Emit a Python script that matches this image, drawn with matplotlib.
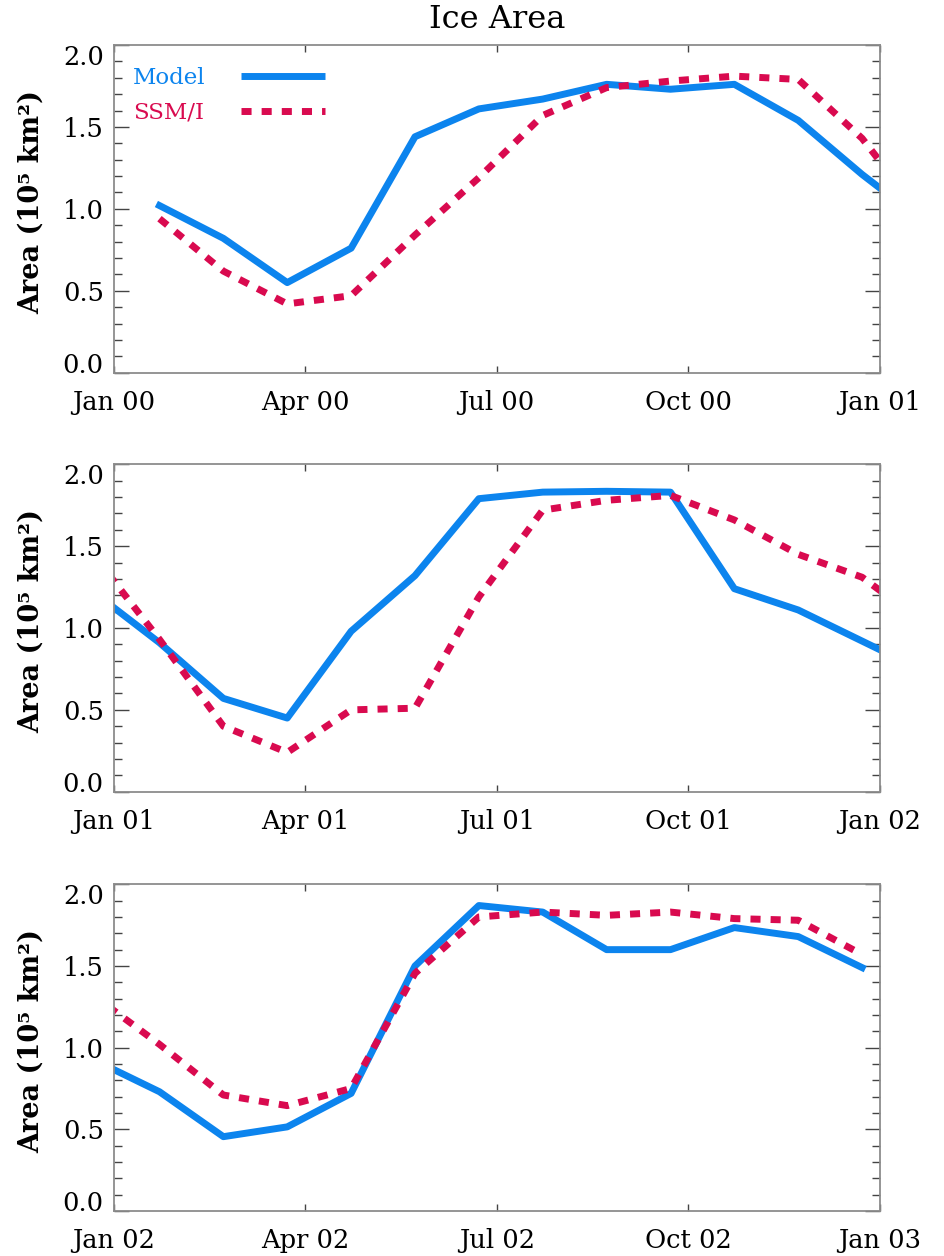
import numpy as np
import matplotlib
matplotlib.use("Agg")
import matplotlib.pyplot as plt
from matplotlib.ticker import MultipleLocator

# monthly ice area (10^5 km^2), Jan 2000 .. Dec 2002
model = [1.02, 0.82, 0.55, 0.76, 1.44, 1.61, 1.67, 1.76, 1.73, 1.76, 1.54, 1.21,
         0.91, 0.57, 0.45, 0.98, 1.32, 1.79, 1.83, 1.835, 1.83, 1.24, 1.11, 0.92,
         0.73, 0.455, 0.515, 0.72, 1.50, 1.87, 1.83, 1.60, 1.60, 1.735, 1.68, 1.49]
ssmi = [0.94, 0.62, 0.42, 0.47, 0.84, 1.19, 1.57, 1.74, 1.78, 1.81, 1.79, 1.43,
        0.93, 0.40, 0.24, 0.50, 0.51, 1.19, 1.72, 1.78, 1.81, 1.66, 1.45, 1.31,
        1.02, 0.71, 0.645, 0.75, 1.455, 1.80, 1.83, 1.81, 1.83, 1.79, 1.78, 1.57]
years = ['00', '01', '02', '03']
month_names = ['Jan', 'Apr', 'Jul', 'Oct']
sample_day = 0.72  # fraction of month where each monthly value sits

months = np.arange(len(model)) + sample_day

blue = '#0c84ee'
red = '#d90a4f'
plt.rcParams['font.family'] = ['DejaVu Serif']

fig = plt.figure(figsize=(9.44, 12.56), dpi=100)
W, H = 944.0, 1256.0
tops = [45.0, 464.3, 884.3]
bottoms = [372.7, 791.7, 1211.0]
left, right = 113.5, 880.0

for i in range(3):
    ax = fig.add_axes([left / W, 1 - bottoms[i] / H, (right - left) / W,
                       (bottoms[i] - tops[i]) / H])
    ax.plot(months, model, color=blue, lw=5, label='Model')
    ax.plot(months, ssmi, color=red, lw=5, dashes=(1.45, 1.45),
            dash_capstyle='butt', label='SSM/I')
    x0 = 12 * i
    ax.set_xlim(x0, x0 + 12)
    ax.set_ylim(0, 2.0)
    ax.set_xticks([x0, x0 + 3, x0 + 6, x0 + 9, x0 + 12])
    labs = [m + ' ' + years[i] for m in month_names] + ['Jan ' + years[i + 1]]
    ax.set_xticklabels(labs, fontsize=18.5)
    ax.set_yticks([0, 0.5, 1.0, 1.5, 2.0])
    ax.set_yticklabels(['0.0', '0.5', '1.0', '1.5', '2.0'], fontsize=18.5)
    ax.yaxis.set_minor_locator(MultipleLocator(0.1))
    ax.tick_params(axis='y', which='major', direction='in', length=11, width=1,
                   color='#444444', left=True, right=True, pad=7)
    ax.tick_params(axis='y', which='minor', direction='in', length=5.5, width=1,
                   color='#444444', left=True, right=True)
    ax.tick_params(axis='x', which='major', direction='in', length=5, width=1,
                   color='#444444', top=True, bottom=True, pad=12.5)
    yt = ax.yaxis.get_major_ticks()
    yt[0].label1.set_va('baseline')
    yt[-1].label1.set_va('top')
    for sp in ax.spines.values():
        sp.set_color('#8c8c8c')
        sp.set_linewidth(1.3)
    ax.set_ylabel('Area (10\u2075 km\u00b2)', fontsize=19.5, fontweight='bold')
    ax.yaxis.set_label_coords(-0.089, 0.52)

    if i == 0:
        fig.text((left + right) / 2 / W, 1 - 19 / H, 'Ice Area', fontsize=23,
                 ha='center', va='center')
        # legend drawn IDL-style: text then a line sample
        ax.text(0.025, 0.90, 'Model', color=blue, fontsize=16.5,
                transform=ax.transAxes, va='center')
        ax.text(0.025, 0.795, 'SSM/I', color=red, fontsize=16.5,
                transform=ax.transAxes, va='center')
        ax.plot([0.166, 0.276], [0.905, 0.905], color=blue, lw=5,
                transform=ax.transAxes, solid_capstyle='butt')
        ax.plot([0.166, 0.276], [0.80, 0.80], color=red, lw=5, dashes=(1.45, 1.45),
                dash_capstyle='butt', transform=ax.transAxes)

fig.savefig('out.png', dpi=100)
